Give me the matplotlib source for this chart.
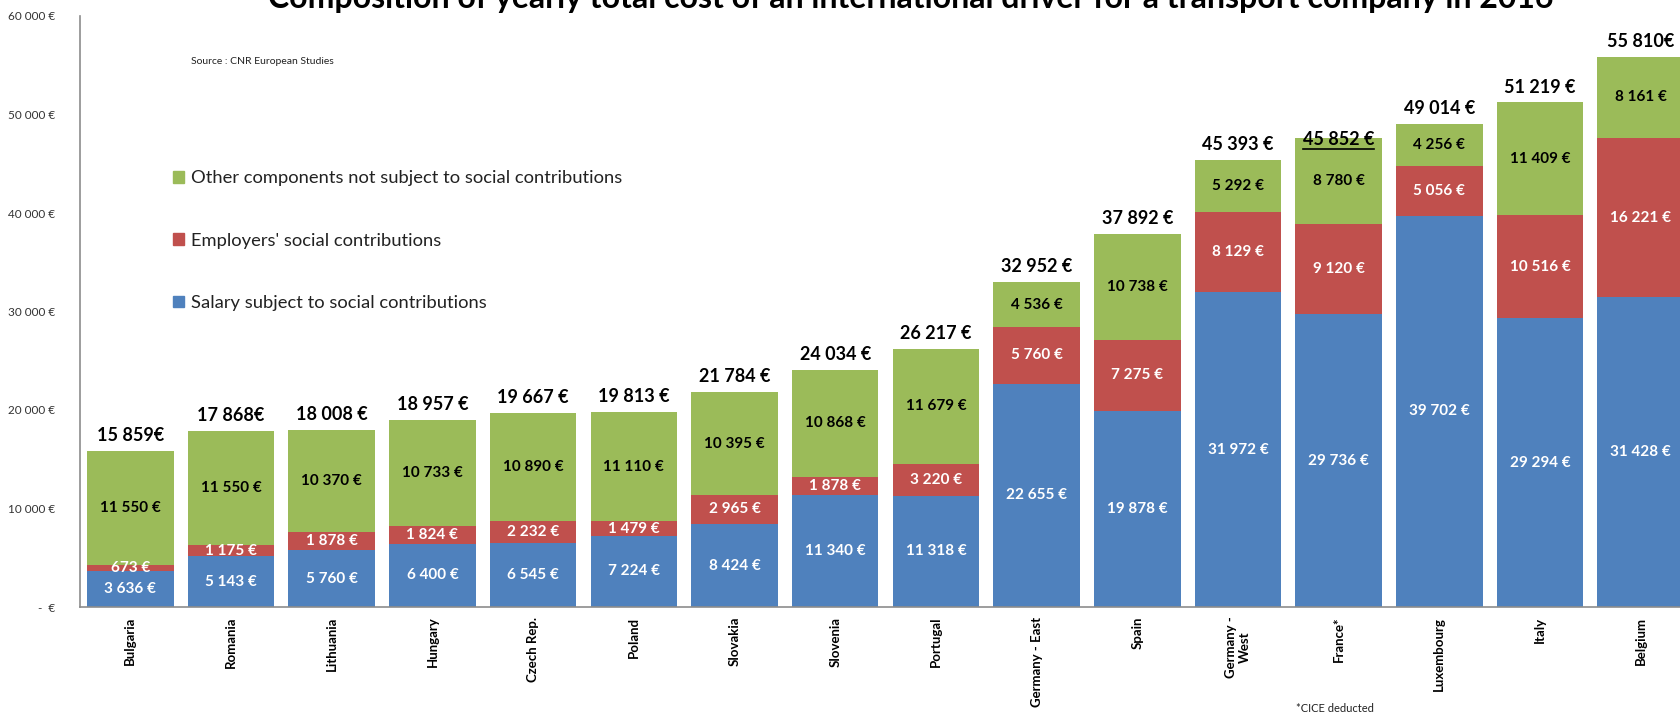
import matplotlib
matplotlib.use('Agg')
import numpy as np
from matplotlib import pyplot as plt
from matplotlib.patches import Patch
from matplotlib.lines import Line2D

plt.rcParams['font.family'] = ['Lato', 'DejaVu Sans']

countries = ['Bulgaria', 'Romania', 'Lithuania', 'Hungary', 'Czech Rep.', 'Poland',
             'Slovakia', 'Slovenia', 'Portugal', 'Germany - East', 'Spain',
             'Germany -\nWest', 'France*', 'Luxembourg', 'Italy', 'Belgium']
salary = [3636, 5143, 5760, 6400, 6545, 7224, 8424, 11340, 11318, 22655, 19878,
          31972, 29736, 39702, 29294, 31428]
employer = [673, 1175, 1878, 1824, 2232, 1479, 2965, 1878, 3220, 5760, 7275,
            8129, 9120, 5056, 10516, 16221]
other = [11550, 11550, 10370, 10733, 10890, 11110, 10395, 10868, 11679, 4536, 10738,
         5292, 8780, 4256, 11409, 8161]
totals = [15859, 17868, 18008, 18957, 19667, 19813, 21784, 24034, 26217, 32952, 37892,
          45393, 45852, 49014, 51219, 55810]
total_labels = ['15 859€', '17 868€', '18 008 €', '18 957 €', '19 667 €', '19 813 €',
                '21 784 €', '24 034 €', '26 217 €', '32 952 €', '37 892 €', '45 393 €',
                '45 852 €', '49 014 €', '51 219 €', '55 810€']
yticks = [0, 10000, 20000, 30000, 40000, 50000, 60000]
ytick_labels = ['-  €', '10 000 €', '20 000 €', '30 000 €', '40 000 €', '50 000 €', '60 000 €']

BLUE = '#4F81BD'
RED = '#C0504D'
GREEN = '#9BBB59'

def eur(v):
    return '{:,}'.format(v).replace(',', ' ') + ' €'

W, H = 1681, 717
fig = plt.figure(figsize=(W / 100, H / 100), dpi=100)
ax = fig.add_axes([80 / W, 1 - 607 / H, 1 - 80 / W, (607 - 16) / H])

x = np.arange(len(countries))
salary = np.array(salary)
employer = np.array(employer)
other = np.array(other)
bw = 0.86

b1 = ax.bar(x, salary, bw, color=BLUE)
b2 = ax.bar(x, employer, bw, bottom=salary, color=RED)
b3 = ax.bar(x, other, bw, bottom=salary + employer, color=GREEN)

# values inside each segment
seg_kw = dict(ha='center', va='center', fontsize=11, fontweight='bold')
for i in x:
    ax.text(i, salary[i] / 2, eur(salary[i]), color='white', **seg_kw)
    ax.text(i, salary[i] + employer[i] / 2, eur(employer[i]), color='white', **seg_kw)
    ax.text(i, salary[i] + employer[i] + other[i] / 2, eur(other[i]), color='black', **seg_kw)

# totals above the bars
tot_txt = []
for i in x:
    t = ax.annotate(total_labels[i], (i, totals[i]), xytext=(0, 5), textcoords='offset points',
                    ha='center', va='bottom', fontsize=13, fontweight='bold')
    tot_txt.append(t)

ax.set_xlim(-0.5, 15.4)
ax.set_ylim(0, 60000)
ax.set_yticks(yticks)
ax.set_yticklabels(ytick_labels, fontsize=8.5, color='#333333')
ax.set_xticks(x)
ax.set_xticklabels(countries, rotation=90, fontsize=9.5, fontweight='bold', va='top')
ax.tick_params(length=0)
ax.tick_params(axis='y', pad=18)
ax.tick_params(axis='x', pad=7)
for s in ['top', 'right']:
    ax.spines[s].set_visible(False)
for s in ['left', 'bottom']:
    ax.spines[s].set_color('#8c8c8c')
    ax.spines[s].set_linewidth(1.2)

handles = [Patch(color=GREEN), Patch(color=RED), Patch(color=BLUE)]
labels = ['Other components not subject to social contributions',
          "Employers' social contributions",
          'Salary subject to social contributions']
fig.legend(handles, labels, loc='upper left', bbox_to_anchor=(164 / W, 1 - 161 / H),
           frameon=False, fontsize=13.2, labelspacing=2.53, handlelength=0.6,
           handleheight=0.6, handletextpad=0.4, borderpad=0, labelcolor='#222222')

fig.text(191 / W, 1 - 61 / H, 'Source : CNR European Studies', fontsize=7.5,
         va='center', color='#222222')
fig.text(1335 / W, 1 - 709 / H, '*CICE deducted', fontsize=8, ha='center',
         va='center', color='#222222')
fig.text(911 / W, 1 - 8 / H,
         'Composition of yearly total cost of an international driver for a transport company in 2016',
         ha='center', va='baseline', fontsize=23, fontweight='bold')

# underline the France total
fig.canvas.draw()
bb = tot_txt[12].get_window_extent()
yl = (bb.y0 - 1) / H
fig.add_artist(Line2D([bb.x0 / W, bb.x1 / W], [yl, yl], color='black', lw=1.2))

fig.savefig('out.png', dpi=100)
